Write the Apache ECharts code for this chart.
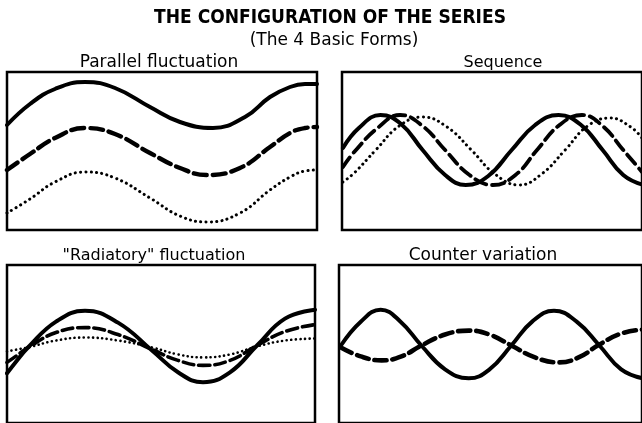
<!DOCTYPE html>
<html>
<head>
<meta charset="utf-8">
<script src="https://cdn.jsdelivr.net/npm/echarts@6/dist/echarts.min.js"></script>
<style>
html,body{margin:0;padding:0;background:#fff;}
#chart{width:642px;height:423px;}
</style>
</head>
<body>
<div id="chart"></div>
<script>
// ---- Texts ----
const mainTitle = "THE CONFIGURATION OF THE SERIES";
const subTitle = "(The 4 Basic Forms)";
const panelTitles = ["Parallel fluctuation", "Sequence", "\"Radiatory\" fluctuation", "Counter variation"];

// ---- Panel 1: Parallel fluctuation ----
const parSolidX  = [0, 23, 48, 78, 108, 143, 173, 206, 238, 263, 283, 298, 310];
const parSolid   = [105, 126, 141, 148, 142, 123, 108, 102, 113, 133, 143, 146, 146];
const parDashedX = [0, 23, 48, 78, 108, 143, 173, 200, 233, 263, 283, 298, 310];
const parDashed  = [60, 76, 92, 102, 96, 77, 62, 55, 62, 83, 97, 102, 103];
const parDottedX = [0, 23, 48, 78, 108, 143, 173, 200, 233, 263, 283, 298, 310];
const parDotted  = [17, 31, 48, 58, 52, 32, 14, 8, 17, 40, 53, 59, 60];

// ---- Panel 2: Sequence ----
const seqSolidX  = [1, 18, 41, 63, 86, 110, 132, 156, 181, 206, 231, 255, 278, 300, 322];
const seqSolid   = [82, 102, 115, 106, 80, 55, 45, 54, 80, 105, 115, 105, 80, 55, 45];
const seqDashedX = [1, 13, 38, 62, 86, 110, 136, 161, 185, 208, 232, 256, 278, 300, 320];
const seqDashed  = [63, 78, 102, 115, 104, 80, 55, 45, 55, 80, 105, 115, 104, 80, 58];
const seqDottedX = [1, 13, 36, 61, 86, 112, 138, 163, 189, 213, 238, 262, 286, 308, 320];
const seqDotted  = [48, 57, 80, 104, 113, 103, 80, 56, 45, 56, 80, 104, 112, 103, 92];

// ---- Panel 3: "Radiatory" fluctuation ----
const radX       = [0, 10, 21, 49, 78, 111, 145, 171, 196, 223, 250, 278, 308];
const radSolid   = [50, 63, 76, 102, 113, 101, 73, 51, 41, 51, 78, 105, 114];
const radDashed  = [61, 68, 76, 91, 96, 89, 74, 63, 58, 63, 78, 92, 99];
const radDotted  = [72, 74, 76, 83, 86, 83, 76, 69, 66, 69, 77, 83, 85];

// ---- Panel 4: Counter variation ----
const cntSolidX  = [2, 23, 44, 65, 87, 112, 137, 159, 182, 204, 227, 251, 275, 298, 321];
const cntSolid   = [78, 102, 114, 102, 78, 54, 45, 54, 78, 102, 113, 102, 78, 54, 45];
const cntDashedX = [2, 23, 45, 66, 87, 112, 137, 159, 182, 207, 232, 253, 275, 298, 321];
const cntDashed  = [76, 67, 63, 67, 78, 89, 93, 89, 78, 66, 61, 66, 79, 90, 94];

function pairs(xs, ys){ return xs.map((x,i)=>[x, ys[i]]); }

const panels = [
  {left:7,   top:72,  width:310, height:158},
  {left:342, top:72,  width:320, height:158},
  {left:7,   top:265, width:308, height:159},
  {left:339, top:265, width:320, height:159}
];

const SOLID = {width:4, type:'solid'};
const DOT   = {width:3, type:[0.1,5.2]};

const seriesDefs = [
  [0, parSolidX, parSolid, SOLID], [0, parDashedX, parDashed, {width:4.4,type:[13,6]}], [0, parDottedX, parDotted, DOT],
  [1, seqSolidX, seqSolid, SOLID], [1, seqDashedX, seqDashed, {width:3.8,type:[12,6]}], [1, seqDottedX, seqDotted, DOT],
  [2, radX, radSolid, SOLID], [2, radX, radDashed, {width:3.6,type:[11,5]}], [2, radX, radDotted, {width:2.6,type:[0.1,4.5]}],
  [3, cntSolidX, cntSolid, SOLID], [3, cntDashedX, cntDashed, {width:4.6,type:[12,6]}]
];

const chart = echarts.init(document.getElementById('chart'), null, {renderer:'canvas'});

const option = {
  backgroundColor:'#fff',
  animation:false,
  grid: panels.map(p=>({left:p.left, top:p.top, width:p.width, height:p.height, show:true,
        borderColor:'#000', borderWidth:2.5, backgroundColor:'transparent', containLabel:false})),
  xAxis: panels.map((p,i)=>({type:'value', gridIndex:i, min:0, max:p.width, show:false})),
  yAxis: panels.map((p,i)=>({type:'value', gridIndex:i, min:0, max:p.height, show:false})),
  series: seriesDefs.map(d=>({
    type:'line', xAxisIndex:d[0], yAxisIndex:d[0], data:pairs(d[1], d[2]),
    smooth:0.45, symbol:'none', clip:true,
    lineStyle:{color:'#000', width:d[3].width, type:d[3].type, cap:'round', join:'round'}
  })),
  graphic: [
    {type:'text', x:330, y:18, style:{text:mainTitle, fill:'#000', font:'bold 19px "DejaVu Sans Condensed", "DejaVu Sans"', textAlign:'center', textVerticalAlign:'middle'}},
    {type:'text', x:334, y:41, style:{text:subTitle, fill:'#000', font:'500 17px "DejaVu Sans"', textAlign:'center', textVerticalAlign:'middle'}},
    {type:'text', x:159, y:63, style:{text:panelTitles[0], fill:'#000', font:'17px "DejaVu Sans"', textAlign:'center', textVerticalAlign:'middle'}},
    {type:'text', x:503, y:63, style:{text:panelTitles[1], fill:'#000', font:'16px "DejaVu Sans"', textAlign:'center', textVerticalAlign:'middle'}},
    {type:'text', x:154, y:256, style:{text:panelTitles[2], fill:'#000', font:'16px "DejaVu Sans"', textAlign:'center', textVerticalAlign:'middle'}},
    {type:'text', x:483, y:256, style:{text:panelTitles[3], fill:'#000', font:'17px "DejaVu Sans"', textAlign:'center', textVerticalAlign:'middle'}}
  ]
};
chart.setOption(option);
</script>
</body>
</html>
